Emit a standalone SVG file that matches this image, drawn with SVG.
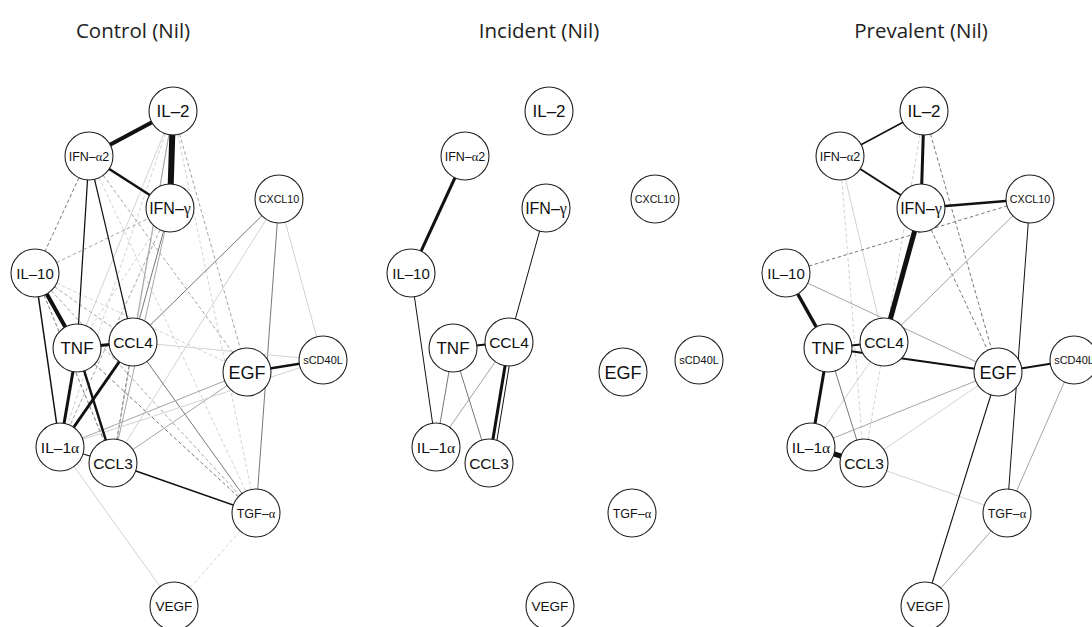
<svg xmlns="http://www.w3.org/2000/svg" width="1092" height="627" viewBox="0 0 1092 627">
<style>
.t{font-family:"Open Sans","Liberation Sans",sans-serif;font-size:20.5px;fill:#222;text-anchor:middle}
.n circle{fill:#fff;stroke:#222;stroke-width:1.1}
.n text{font-family:"Liberation Sans",Arial,sans-serif;fill:#111;text-anchor:middle}
.gr{font-family:"Liberation Serif",serif}
line{fill:none;stroke-linecap:butt}
.b{stroke:#111}
.g{stroke:#777}
.m{stroke:#a5a5a5}
.l{stroke:#d2d2d2}
.d{stroke-dasharray:3.5 2.5}
</style>
<rect width="1092" height="627" fill="#fff"/>
<text class="t" x="133" y="38">Control (Nil)</text>
<text class="t" x="539" y="38">Incident (Nil)</text>
<text class="t" x="921" y="38">Prevalent (Nil)</text>

<!-- ===== Control panel ===== -->
<g id="control">
<g id="control-connectors" stroke-width="1">
<line class="l" x1="173" y1="111" x2="77" y2="348"/>
<line class="l d" x1="173" y1="111" x2="60" y2="447"/>
<line class="l" x1="173" y1="111" x2="113" y2="463"/>
<line class="m" x1="173" y1="111" x2="133" y2="342"/>
<line class="m d" x1="173" y1="111" x2="247" y2="372"/>
<line class="l d" x1="173" y1="111" x2="256" y2="513"/>
<line class="m d" x1="89" y1="156" x2="247" y2="372"/>
<line class="l d" x1="89" y1="156" x2="256" y2="513"/>
<line class="g d" x1="89" y1="156" x2="35" y2="273"/>
<line class="m d" x1="35" y1="273" x2="170" y2="208"/>
<line class="l d" x1="35" y1="273" x2="247" y2="372"/>
<line class="m d" x1="35" y1="273" x2="133" y2="342"/>
<line class="g d" x1="35" y1="273" x2="113" y2="463"/>
<line class="m d" x1="35" y1="273" x2="256" y2="513"/>
<line class="l d" x1="170" y1="208" x2="77" y2="348"/>
<line class="m d" x1="170" y1="208" x2="60" y2="447"/>
<line class="g" x1="170" y1="208" x2="133" y2="342"/>
<line class="m" x1="170" y1="208" x2="113" y2="463"/>
<line class="g" x1="279" y1="199" x2="133" y2="342"/>
<line class="g" x1="279" y1="199" x2="256" y2="513"/>
<line class="l" x1="279" y1="199" x2="323" y2="360"/>
<line class="l" x1="279" y1="199" x2="113" y2="463"/>
<line class="l" x1="133" y1="342" x2="323" y2="360"/>
<line class="g" x1="133" y1="342" x2="256" y2="513"/>
<line class="g d" x1="133" y1="342" x2="113" y2="463"/>
<line class="g d" x1="77" y1="348" x2="256" y2="513"/>
<line class="m" x1="247" y1="372" x2="60" y2="447"/>
<line class="m" x1="247" y1="372" x2="113" y2="463"/>
<line class="l" x1="323" y1="360" x2="60" y2="447"/>
<line class="l" x1="60" y1="447" x2="174" y2="606"/>
<line class="l d" x1="256" y1="513" x2="174" y2="606"/>
<line class="b" stroke-width="4" x1="173" y1="111" x2="89" y2="156"/>
<line class="b" stroke-width="6" x1="173" y1="111" x2="170" y2="208"/>
<line class="b" stroke-width="2.6" x1="89" y1="156" x2="170" y2="208"/>
<line class="b" stroke-width="1.2" x1="89" y1="156" x2="77" y2="348"/>
<line class="b" stroke-width="1.2" x1="89" y1="156" x2="133" y2="342"/>
<line class="b" stroke-width="4" x1="35" y1="273" x2="77" y2="348"/>
<line class="b" stroke-width="1.5" x1="35" y1="273" x2="60" y2="447"/>
<line class="b" stroke-width="3" x1="77" y1="348" x2="133" y2="342"/>
<line class="b" stroke-width="3" x1="77" y1="348" x2="60" y2="447"/>
<line class="b" stroke-width="2.5" x1="77" y1="348" x2="113" y2="463"/>
<line class="b" stroke-width="3" x1="133" y1="342" x2="60" y2="447"/>
<line class="b" stroke-width="2.5" x1="247" y1="372" x2="323" y2="360"/>
<line class="b" stroke-width="1.5" x1="113" y1="463" x2="256" y2="513"/>
<line class="b" stroke-width="1.2" x1="60" y1="447" x2="113" y2="463"/>
</g>
<g id="c-il2" class="n"><circle cx="173" cy="111" r="24"/><text x="173" y="117" font-size="17">IL–2</text></g>
<g id="c-ifna2" class="n"><circle cx="89" cy="156" r="24"/><text x="89" y="160.5" font-size="12.5">IFN–<tspan class="gr">α</tspan>2</text></g>
<g id="c-ifng" class="n"><circle cx="170" cy="208" r="24"/><text x="170" y="213.5" font-size="16">IFN–<tspan class="gr">γ</tspan></text></g>
<g id="c-cxcl10" class="n"><circle cx="279" cy="199" r="24"/><text x="279" y="203" font-size="10.7">CXCL10</text></g>
<g id="c-il10" class="n"><circle cx="35" cy="273" r="24"/><text x="35" y="278.5" font-size="15">IL–10</text></g>
<g id="c-tnf" class="n"><circle cx="77" cy="348" r="24"/><text x="77" y="354" font-size="17">TNF</text></g>
<g id="c-ccl4" class="n"><circle cx="133" cy="342" r="24"/><text x="133" y="347.5" font-size="15.5">CCL4</text></g>
<g id="c-egf" class="n"><circle cx="247" cy="372" r="24"/><text x="247" y="378.5" font-size="18">EGF</text></g>
<g id="c-scd40l" class="n"><circle cx="323" cy="360" r="24"/><text x="323" y="364" font-size="11">sCD40L</text></g>
<g id="c-il1a" class="n"><circle cx="60" cy="447" r="24"/><text x="60" y="452.5" font-size="15.5">IL–1<tspan class="gr">α</tspan></text></g>
<g id="c-ccl3" class="n"><circle cx="113" cy="463" r="24"/><text x="113" y="468.5" font-size="15.5">CCL3</text></g>
<g id="c-tgfa" class="n"><circle cx="256" cy="513" r="24"/><text x="256" y="517.5" font-size="12.5">TGF–<tspan class="gr">α</tspan></text></g>
<g id="c-vegf" class="n"><circle cx="174" cy="606" r="24"/><text x="174" y="611" font-size="13.5">VEGF</text></g>
</g>

<!-- ===== Incident panel ===== -->
<g id="incident" transform="translate(376,0)">
<g id="incident-connectors" stroke-width="1">
<line class="m" x1="133" y1="342" x2="60" y2="447"/>
<line class="b" stroke-width="3" x1="89" y1="156" x2="35" y2="273"/>
<line class="b" stroke-width="1" x1="35" y1="273" x2="60" y2="447"/>
<line class="b" stroke-width="1" x1="170" y1="208" x2="133" y2="342"/>
<line class="b" stroke-width="2" x1="77" y1="348" x2="133" y2="342"/>
<line class="g" stroke-width="1" x1="77" y1="348" x2="60" y2="447"/>
<line class="g" stroke-width="1" x1="77" y1="348" x2="113" y2="463"/>
<line class="b" stroke-width="3" x1="133" y1="342" x2="113" y2="463"/>
<line class="b" stroke-width="1" x1="137" y1="343" x2="117" y2="464"/>
</g>
<g id="i-il2" class="n"><circle cx="173" cy="111" r="24"/><text x="173" y="117" font-size="17">IL–2</text></g>
<g id="i-ifna2" class="n"><circle cx="89" cy="156" r="24"/><text x="89" y="160.5" font-size="12.5">IFN–<tspan class="gr">α</tspan>2</text></g>
<g id="i-ifng" class="n"><circle cx="170" cy="208" r="24"/><text x="170" y="213.5" font-size="16">IFN–<tspan class="gr">γ</tspan></text></g>
<g id="i-cxcl10" class="n"><circle cx="279" cy="199" r="24"/><text x="279" y="203" font-size="10.7">CXCL10</text></g>
<g id="i-il10" class="n"><circle cx="35" cy="273" r="24"/><text x="35" y="278.5" font-size="15">IL–10</text></g>
<g id="i-tnf" class="n"><circle cx="77" cy="348" r="24"/><text x="77" y="354" font-size="17">TNF</text></g>
<g id="i-ccl4" class="n"><circle cx="133" cy="342" r="24"/><text x="133" y="347.5" font-size="15.5">CCL4</text></g>
<g id="i-egf" class="n"><circle cx="247" cy="372" r="24"/><text x="247" y="378.5" font-size="18">EGF</text></g>
<g id="i-scd40l" class="n"><circle cx="323" cy="360" r="24"/><text x="323" y="364" font-size="11">sCD40L</text></g>
<g id="i-il1a" class="n"><circle cx="60" cy="447" r="24"/><text x="60" y="452.5" font-size="15.5">IL–1<tspan class="gr">α</tspan></text></g>
<g id="i-ccl3" class="n"><circle cx="113" cy="463" r="24"/><text x="113" y="468.5" font-size="15.5">CCL3</text></g>
<g id="i-tgfa" class="n"><circle cx="256" cy="513" r="24"/><text x="256" y="517.5" font-size="12.5">TGF–<tspan class="gr">α</tspan></text></g>
<g id="i-vegf" class="n"><circle cx="174" cy="606" r="24"/><text x="174" y="611" font-size="13.5">VEGF</text></g>
</g>

<!-- ===== Prevalent panel ===== -->
<g id="prevalent" transform="translate(751,0)">
<g id="prevalent-connectors" stroke-width="1">
<line class="l d" x1="89" y1="156" x2="113" y2="463"/>
<line class="l" x1="89" y1="156" x2="133" y2="342"/>
<line class="l d" x1="173" y1="111" x2="113" y2="463"/>
<line class="g d" x1="173" y1="111" x2="247" y2="372"/>
<line class="g d" x1="170" y1="208" x2="247" y2="372"/>
<line class="g d" x1="35" y1="273" x2="279" y2="199"/>
<line class="m" x1="35" y1="273" x2="247" y2="372"/>
<line class="m" x1="279" y1="199" x2="133" y2="342"/>
<line class="l" x1="133" y1="342" x2="60" y2="447"/>
<line class="g" x1="77" y1="348" x2="113" y2="463"/>
<line class="m" x1="247" y1="372" x2="60" y2="447"/>
<line class="l" x1="247" y1="372" x2="113" y2="463"/>
<line class="l" x1="113" y1="463" x2="256" y2="513"/>
<line class="b" stroke-width="1" x1="279" y1="199" x2="256" y2="513"/>
<line class="m" x1="323" y1="360" x2="256" y2="513"/>
<line class="m" x1="256" y1="513" x2="174" y2="606"/>
<line class="b" stroke-width="1.1" x1="247" y1="372" x2="174" y2="606"/>
<line class="b" stroke-width="1.5" x1="173" y1="111" x2="89" y2="156"/>
<line class="b" stroke-width="3" x1="173" y1="111" x2="170" y2="208"/>
<line class="b" stroke-width="2" x1="89" y1="156" x2="170" y2="208"/>
<line class="b" stroke-width="2.5" x1="170" y1="208" x2="279" y2="199"/>
<line class="b" stroke-width="5" x1="170" y1="208" x2="133" y2="342"/>
<line class="b" stroke-width="3.5" x1="35" y1="273" x2="77" y2="348"/>
<line class="b" stroke-width="2" x1="77" y1="348" x2="133" y2="342"/>
<line class="b" stroke-width="2" x1="77" y1="348" x2="247" y2="372"/>
<line class="b" stroke-width="3" x1="77" y1="348" x2="60" y2="447"/>
<line class="b" stroke-width="5" x1="60" y1="447" x2="113" y2="463"/>
<line class="b" stroke-width="2" x1="247" y1="372" x2="323" y2="360"/>
</g>
<g id="p-il2" class="n"><circle cx="173" cy="111" r="24"/><text x="173" y="117" font-size="17">IL–2</text></g>
<g id="p-ifna2" class="n"><circle cx="89" cy="156" r="24"/><text x="89" y="160.5" font-size="12.5">IFN–<tspan class="gr">α</tspan>2</text></g>
<g id="p-ifng" class="n"><circle cx="170" cy="208" r="24"/><text x="170" y="213.5" font-size="16">IFN–<tspan class="gr">γ</tspan></text></g>
<g id="p-cxcl10" class="n"><circle cx="279" cy="199" r="24"/><text x="279" y="203" font-size="10.7">CXCL10</text></g>
<g id="p-il10" class="n"><circle cx="35" cy="273" r="24"/><text x="35" y="278.5" font-size="15">IL–10</text></g>
<g id="p-tnf" class="n"><circle cx="77" cy="348" r="24"/><text x="77" y="354" font-size="17">TNF</text></g>
<g id="p-ccl4" class="n"><circle cx="133" cy="342" r="24"/><text x="133" y="347.5" font-size="15.5">CCL4</text></g>
<g id="p-egf" class="n"><circle cx="247" cy="372" r="24"/><text x="247" y="378.5" font-size="18">EGF</text></g>
<g id="p-scd40l" class="n"><circle cx="323" cy="360" r="24"/><text x="323" y="364" font-size="11">sCD40L</text></g>
<g id="p-il1a" class="n"><circle cx="60" cy="447" r="24"/><text x="60" y="452.5" font-size="15.5">IL–1<tspan class="gr">α</tspan></text></g>
<g id="p-ccl3" class="n"><circle cx="113" cy="463" r="24"/><text x="113" y="468.5" font-size="15.5">CCL3</text></g>
<g id="p-tgfa" class="n"><circle cx="256" cy="513" r="24"/><text x="256" y="517.5" font-size="12.5">TGF–<tspan class="gr">α</tspan></text></g>
<g id="p-vegf" class="n"><circle cx="174" cy="606" r="24"/><text x="174" y="611" font-size="13.5">VEGF</text></g>
</g>
</svg>
